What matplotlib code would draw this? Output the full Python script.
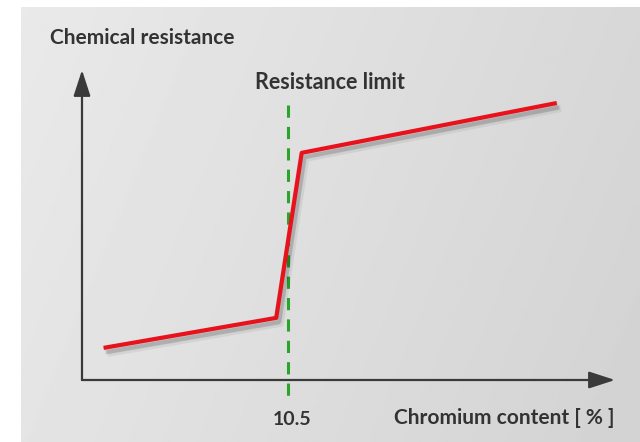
import matplotlib
matplotlib.use("Agg")
import matplotlib.pyplot as plt
import matplotlib.patheffects as pe
import numpy as np

# chromium content (%) vs. chemical resistance (arbitrary units)
chromium = [1.1, 9.9, 11.2, 24.2]
resistance = [10.7, 20.7, 75.7, 92.3]
limit_x = 10.5
limit_label = "10.5"

W, H = 640, 442
fig = plt.figure(figsize=(W / 100, H / 100), dpi=100)
fig.patch.set_facecolor("white")

# grey panel with soft gradient
bg = fig.add_axes([21 / W, 0, (W - 21) / W, (H - 7) / H])
gx = np.linspace(0, 1, 200)
gy = np.linspace(0, 1, 200)
GX, GY = np.meshgrid(gx, gy)
shade = 0.915 - 0.07 * GX - 0.02 * GY
bg.imshow(shade, cmap="gray", vmin=0, vmax=1, aspect="auto",
          extent=(0, 1, 0, 1), origin="upper")
bg.set_axis_off()

ax = fig.add_axes([82 / W, (H - 380) / H, (615 - 82) / W, (380 - 70) / H])
ax.set_xlim(0, 27.17)
ax.set_ylim(0, 103.3)
ax.set_axis_off()
ax.patch.set_alpha(0)

# soft blurred-looking shadow built from a few faint offset copies
shadow = [pe.SimpleLineShadow(offset=(1, -2), alpha=0.08, shadow_color="black", linewidth=6),
          pe.SimpleLineShadow(offset=(2, -3), alpha=0.10, shadow_color="black"),
          pe.SimpleLineShadow(offset=(3, -4), alpha=0.06, shadow_color="black", linewidth=5),
          pe.Normal()]

axis_col = "#3a3a3a"
arrow = dict(arrowstyle="-|>,head_length=0.8,head_width=0.26", color=axis_col,
             lw=1.6, mutation_scale=20, shrinkA=0, shrinkB=0)
ax.annotate("", xy=(27.17, 0), xytext=(0, 0), arrowprops=arrow,
            annotation_clip=False)
ax.annotate("", xy=(0, 103.3), xytext=(0, 0), arrowprops=arrow,
            annotation_clip=False)

ax.plot([limit_x, limit_x], [91.7, -6], color="#2aa52a", lw=2.2,
        dashes=(4, 3), clip_on=False, zorder=3)

ax.plot(chromium, resistance, color="#e8121c", lw=3, solid_capstyle="butt",
        path_effects=shadow, zorder=4)

font = ["Lato", "DejaVu Sans"]
tcol = "#333333"
ax.text(-1.63, 114, "Chemical resistance", ha="left", va="center",
        fontsize=15, color=tcol, family=font, fontweight="bold")
ax.text(12.64, 99, "Resistance limit", ha="center", va="center",
        fontsize=15.5, color=tcol, family=font, fontweight="bold")
ax.text(10.7, -13.3, limit_label, ha="center", va="center",
        fontsize=14, color=tcol, family=font, fontweight="bold")
ax.text(27.17, -12.7, "Chromium content [ % ]", ha="right", va="center",
        fontsize=15, color=tcol, family=font, fontweight="bold")

fig.savefig("out.png", dpi=100)
